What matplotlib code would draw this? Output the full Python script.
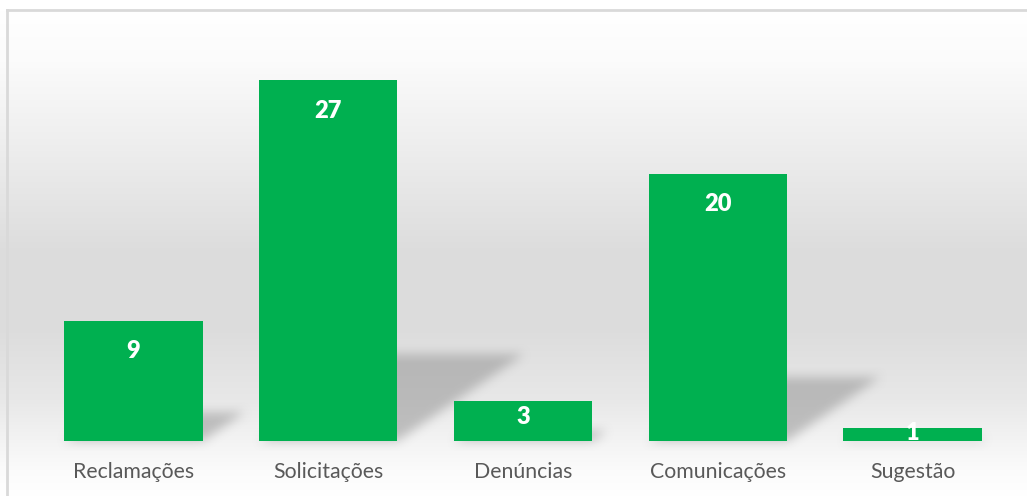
import numpy as np
import matplotlib
matplotlib.use('Agg')
import matplotlib.pyplot as plt
from matplotlib.path import Path

# Data
categorias = ['Reclamações', 'Solicitações', 'Denúncias', 'Comunicações', 'Sugestão']
valores = [9, 27, 3, 20, 1]

W, H = 1027, 496
verde = '#00B050'

fig = plt.figure(figsize=(W / 100, H / 100), dpi=100)

# background axes in pixel coordinates
bg = fig.add_axes([0, 0, 1, 1], zorder=0)
bg.set_xlim(0, W)
bg.set_ylim(0, H)
bg.axis('off')

# vertical gradient (pixel rows measured from top)
ys = np.array([10, 60, 150, 250, 330, 400, 441, 470, 496])
gs = np.array([1.0, 0.985, 0.93, 0.865, 0.865, 0.91, 0.955, 0.985, 1.0])
rows = np.arange(H)
g = np.interp(rows, ys, gs)
grad = np.repeat(g[:, None], W, axis=1)
bg.imshow(np.dstack([grad, grad, grad]), extent=[0, W, 0, H], origin='upper',
          aspect='auto', interpolation='bilinear')

# chart axes
ax = fig.add_axes([36 / W, 55 / H, 974 / W, 401 / H], zorder=1)
ax.patch.set_alpha(0)
x = np.arange(len(categorias))
ax.set_xlim(-0.5, len(categorias) - 0.5)
ax.set_ylim(0, 30)
bw = 0.71

# blurred perspective shadows, built in pixel space
mask = np.zeros((H, W))
px, py = np.meshgrid(np.arange(W) + 0.5, np.arange(H) + 0.5)
pts = np.column_stack([px.ravel(), py.ravel()])
for xi, v in zip(x, valores):
    (xl, y0), (xr, y1) = ax.transData.transform([(xi - bw / 2, 0), (xi + bw / 2, v)])
    hp = y1 - y0
    dx, dy = 0.35 * hp, 0.24 * hp
    poly = Path([(xl, y0), (xr, y0), (xr + dx, y0 + dy), (xl + dx, y0 + dy)])
    mask = np.maximum(mask, poly.contains_points(pts).reshape(H, W).astype(float))

def box_blur(a, r):
    k = np.ones(2 * r + 1) / (2 * r + 1)
    a = np.apply_along_axis(lambda m: np.convolve(m, k, mode='same'), 0, a)
    a = np.apply_along_axis(lambda m: np.convolve(m, k, mode='same'), 1, a)
    return a

mask = box_blur(box_blur(mask, 6), 5)
shadow = np.zeros((H, W, 4))
shadow[..., :3] = 0.55
shadow[..., 3] = mask * 0.5
bg.imshow(shadow, extent=[0, W, 0, H], origin='lower', aspect='auto',
          interpolation='bilinear')

# bars
ax.bar(x, valores, width=bw, color=verde, zorder=3)

for xi, v in zip(x, valores):
    ypos = max(v - 2.3, v * 0.6)
    ax.text(xi, ypos, str(v), ha='center', va='center', color='white',
            fontsize=17, fontweight='heavy', family='Lato', zorder=4)

ax.set_xticks(x)
ax.set_xticklabels(categorias, fontsize=15.3, color='#595959', family='Lato')
ax.tick_params(axis='x', length=0, pad=15)
ax.set_yticks([])
for s in ax.spines.values():
    s.set_visible(False)

# chart border (left and top visible)
bg.plot([7, 7], [0, H - 10], color='#d9d9d9', lw=2, zorder=5)
bg.plot([7, W], [H - 10, H - 10], color='#d9d9d9', lw=2, zorder=5)

fig.savefig('out.png', dpi=100)
